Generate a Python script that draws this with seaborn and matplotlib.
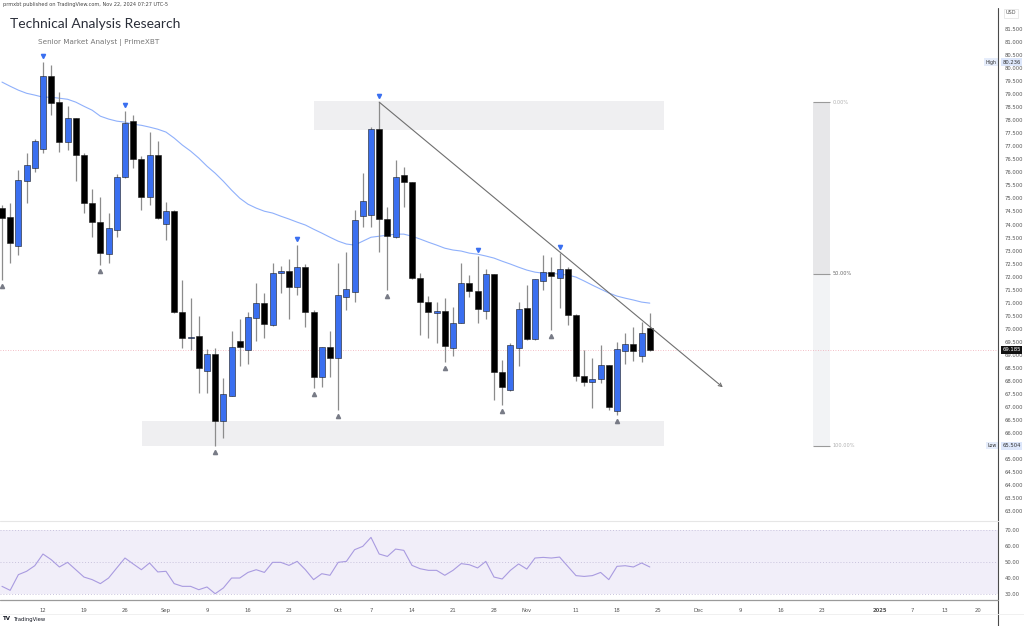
import numpy as np
import pandas as pd
import matplotlib
matplotlib.use('Agg')
import matplotlib.pyplot as plt
import matplotlib.transforms as mtransforms
from matplotlib.lines import Line2D
import seaborn as sns

# daily candles, bar index 0 = Aug 12 2024 (weekdays only)
bars = list(range(-5, 75))
opens = [74.63, 74.28, 73.17, 75.66, 76.16, 76.89, 79.70, 78.70, 77.16, 78.08,
         76.66, 74.82, 74.09, 72.86, 73.78, 75.82, 77.97, 76.51, 75.05, 76.66,
         74.01, 74.51, 70.64, 69.64, 69.71, 68.37, 69.02, 66.45, 67.41, 69.52,
         69.18, 70.41, 70.98, 70.14, 72.13, 72.21, 71.60, 72.36, 70.64, 68.14,
         69.29, 68.87, 71.21, 71.40, 74.32, 74.36, 77.66, 74.21, 73.52, 75.90,
         75.63, 71.94, 71.02, 70.60, 70.67, 69.25, 70.21, 71.75, 71.44, 70.67,
         72.09, 68.33, 67.64, 69.25, 70.79, 69.60, 71.83, 72.17, 71.94, 72.29,
         70.52, 68.18, 67.95, 68.06, 68.60, 66.84, 69.14, 69.41, 68.95, 70.02]
highs = [74.74, 74.82, 76.09, 76.74, 77.28, 80.24, 80.12, 79.08, 78.54, 78.10,
         76.74, 75.36, 75.05, 74.44, 75.93, 78.35, 78.20, 76.62, 77.55, 77.20,
         74.86, 74.55, 71.86, 71.17, 70.48, 69.22, 69.25, 68.10, 69.91, 70.37,
         70.64, 71.75, 71.37, 72.52, 72.40, 72.67, 73.21, 72.48, 70.71, 69.30,
         69.91, 72.52, 72.94, 74.55, 75.97, 77.74, 78.70, 74.67, 76.47, 76.20,
         75.65, 72.13, 71.25, 71.02, 71.17, 70.83, 72.52, 72.06, 72.79, 72.29,
         72.10, 68.79, 69.45, 71.02, 71.67, 71.92, 72.82, 72.75, 72.90, 72.36,
         70.55, 69.18, 68.87, 69.37, 68.62, 69.48, 69.83, 70.06, 70.25, 70.60]
lows = [71.86, 72.52, 72.82, 74.82, 76.01, 76.74, 78.20, 76.78, 76.85, 75.66,
        74.44, 73.52, 72.44, 72.52, 73.52, 75.80, 76.16, 74.55, 74.74, 74.22,
        73.40, 70.60, 69.25, 69.18, 67.53, 67.53, 65.50, 65.80, 67.40, 68.56,
        68.64, 69.52, 69.64, 70.12, 71.37, 70.37, 71.29, 70.06, 67.72, 67.76,
        68.14, 66.87, 70.71, 71.02, 73.90, 73.90, 72.94, 71.48, 73.50, 74.67,
        71.90, 69.75, 69.64, 69.45, 68.72, 68.95, 70.20, 71.21, 70.21, 70.37,
        67.26, 67.07, 67.62, 68.56, 69.58, 69.58, 71.48, 69.94, 70.79, 70.14,
        67.99, 67.79, 66.95, 67.91, 66.87, 66.68, 68.64, 68.75, 68.72, 69.15]
closes = [74.24, 73.28, 75.70, 76.28, 77.20, 79.70, 78.66, 77.16, 78.08, 76.66,
          74.82, 74.09, 72.90, 73.86, 75.82, 77.89, 76.51, 75.05, 76.66, 74.24,
          74.51, 70.64, 69.64, 69.68, 68.49, 69.02, 66.45, 67.49, 69.29, 69.29,
          70.44, 70.98, 70.17, 72.13, 72.21, 71.60, 72.36, 70.64, 68.14, 69.29,
          68.87, 71.29, 71.52, 74.17, 74.90, 77.66, 74.21, 73.55, 75.82, 75.63,
          71.94, 71.02, 70.64, 70.67, 69.33, 70.21, 71.75, 71.44, 70.75, 72.09,
          68.33, 67.76, 69.37, 70.75, 69.60, 71.90, 72.17, 72.02, 72.29, 70.52,
          68.18, 67.95, 68.06, 68.60, 66.99, 69.22, 69.41, 69.14, 69.83, 69.185]
ma = [79.47, 79.31, 79.16, 79.04, 78.97, 78.89, 78.89, 78.85, 78.81, 78.70,
      78.54, 78.39, 78.16, 78.05, 77.97, 77.93, 77.85, 77.81, 77.74, 77.66,
      77.55, 77.32, 77.05, 76.82, 76.55, 76.24, 75.97, 75.66, 75.32, 75.01,
      74.78, 74.63, 74.51, 74.44, 74.32, 74.21, 74.09, 73.98, 73.82, 73.67,
      73.51, 73.36, 73.25, 73.21, 73.36, 73.51, 73.55, 73.59, 73.63, 73.63,
      73.55, 73.44, 73.32, 73.21, 73.09, 73.02, 72.98, 72.90, 72.86, 72.79,
      72.71, 72.59, 72.48, 72.36, 72.25, 72.17, 72.13, 72.13, 72.09, 72.06,
      71.98, 71.83, 71.67, 71.52, 71.37, 71.25, 71.17, 71.10, 71.02, 70.98]
rsi = [34.8, 32.3, 42.1, 44.2, 47.7, 55.0, 51.5, 46.9, 49.8, 45.2,
       40.6, 39.0, 36.5, 40.0, 46.3, 52.5, 48.8, 45.2, 49.4, 43.8,
       44.2, 36.5, 34.8, 34.8, 32.7, 34.4, 30.2, 33.8, 40.0, 40.0,
       43.5, 45.2, 43.5, 49.8, 49.8, 47.9, 50.4, 45.2, 39.0, 42.7,
       41.7, 49.8, 50.4, 57.7, 59.8, 65.4, 55.0, 53.5, 58.1, 57.3,
       47.9, 45.8, 44.8, 44.8, 41.7, 44.8, 49.0, 48.3, 46.3, 50.4,
       40.6, 39.4, 44.8, 48.8, 45.6, 52.5, 52.9, 52.5, 53.1, 47.3,
       41.5, 41.0, 41.5, 43.5, 39.0, 47.3, 47.7, 46.9, 49.4, 46.9]

pivot_high_bars = [0, 10, 31, 41, 53, 63]
pivot_low_bars = [-5, 7, 21, 33, 36, 42, 49, 56, 62, 70]

x_tick_bars = [0, 5, 10, 15, 20, 25, 30, 36, 40, 45, 50, 55, 59, 65, 70, 75,
               80, 85, 90, 95, 102, 106, 110, 114]
x_tick_labels = ['12', '19', '26', 'Sep', '9', '16', '23', 'Oct', '7', '14', '21', '28',
                 'Nov', '11', '18', '25', 'Dec', '9', '16', '23', '2025', '7', '13', '20']

last_price = 69.185
high_price = 80.236
low_price = 65.504
supply_zone = (33.1, 75.7, 77.62, 78.74)   # x0, x1, y0, y1
demand_zone = (12.1, 75.7, 65.50, 66.45)
trend_start = (41, 78.70)
trend_end = (82.9, 67.75)
fib_x = (93.9, 96.0)
fib_top, fib_bottom = 78.70, 65.50

df = pd.DataFrame({'bar': bars, 'open': opens, 'high': highs, 'low': lows,
                   'close': closes, 'ma': ma, 'rsi': rsi})

sns.set_style('white')
plt.rcParams['font.family'] = ['DejaVu Sans']

fig = plt.figure(figsize=(10.24, 6.26), dpi=100)
ax = fig.add_axes([0, 0.1693, 0.9746, 0.8177])
ax2 = fig.add_axes([0, 0.0415, 0.9746, 0.1246])

BLUE = '#3a6ff0'
GREY = '#787b86'

# zones
for x0, x1, y0, y1 in [supply_zone, demand_zone]:
    ax.fill_between([x0, x1], y0, y1, color='#efeff1', lw=0, zorder=0)

# fib bar
fib_mid = (fib_top + fib_bottom) / 2
ax.fill_between(list(fib_x), fib_mid, fib_top, color='#e7e7e9', lw=0, zorder=0)
ax.fill_between(list(fib_x), fib_bottom, fib_mid, color='#f2f3f5', lw=0, zorder=0)
for lvl, lab, col in [(fib_top, '0.00%', '#b0b0b0'), (fib_mid, '50.00%', '#666666'),
                      (fib_bottom, '100.00%', '#b0b0b0')]:
    ax.hlines(lvl, fib_x[0], fib_x[1], color='#9a9a9a', lw=0.8, zorder=1)
    ax.text(fib_x[1] + 0.3, lvl, lab, fontsize=3.6, color=col, va='center', ha='left')

# current price line
ax.axhline(last_price, color='#f0a8b4', ls=(0, (1, 2)), lw=0.6, zorder=1)

# moving average
sns.lineplot(data=df, x='bar', y='ma', ax=ax, color='#8fb0fb', lw=0.8, zorder=2)

# candles
up = df['close'] >= df['open']
cols = np.where(up, BLUE, '#000000')
ax.vlines(df['bar'], df['low'], df['high'], color='#8c8c8c', lw=0.9, zorder=3)
body = (df['close'] - df['open']).abs().clip(lower=0.04)
ax.bar(df['bar'], body, bottom=df[['open', 'close']].min(axis=1), width=0.72,
       color=cols, edgecolor='#1a1a1a', linewidth=0.4, zorder=4)

# pivot markers
hi = df.set_index('bar').loc[pivot_high_bars, 'high']
lo = df.set_index('bar').loc[pivot_low_bars, 'low']
t_up = mtransforms.offset_copy(ax.transData, fig=fig, y=6, units='dots')
t_dn = mtransforms.offset_copy(ax.transData, fig=fig, y=-6, units='dots')
ax.plot(hi.index, hi.values, 'v', color=BLUE, ms=3, transform=t_up, zorder=5)
ax.plot(lo.index, lo.values, '^', color=GREY, ms=3, transform=t_dn, zorder=5)

# trend line
ax.annotate('', xy=trend_end, xytext=trend_start,
            arrowprops=dict(arrowstyle='->', color='#6f6f6f', lw=0.8,
                            mutation_scale=6, shrinkA=0, shrinkB=0), zorder=5)

ax.set_xlim(-5.24, 116.46)
ax.set_ylim(62.65, 82.31)
ax.set_xlabel('')
ax.set_ylabel('')
ax.set_xticks([])
ax.yaxis.tick_right()
# price ticks, leaving out the ones hidden under the low tag
yt = [v for v in np.arange(63.0, 81.51, 0.5) if abs(v - low_price) > 0.2]
ax.set_yticks(yt)
ax.set_yticklabels([f'{v:.3f}' for v in yt])
ax.tick_params(axis='y', length=0, pad=5, labelsize=3.8, labelcolor='#555555')
for s in ax.spines.values():
    s.set_visible(False)

# price scale tags
ty = ax.get_yaxis_transform()
ax.text(1.0045, high_price, f'{high_price:.3f}', transform=ty, fontsize=3.8, color='#333',
        va='center', ha='left', clip_on=False,
        bbox=dict(boxstyle='square,pad=0.25', fc='#dde7fb', ec='none'))
ax.text(0.9985, high_price, 'High', transform=ty, fontsize=3.4, color='#333',
        va='center', ha='right', clip_on=False,
        bbox=dict(boxstyle='square,pad=0.25', fc='#e6edfb', ec='none'))
ax.text(1.0045, low_price, f'{low_price:.3f}', transform=ty, fontsize=3.8, color='#333',
        va='center', ha='left', clip_on=False,
        bbox=dict(boxstyle='square,pad=0.25', fc='#dde7fb', ec='none'))
ax.text(0.9985, low_price, 'Low', transform=ty, fontsize=3.4, color='#333',
        va='center', ha='right', clip_on=False,
        bbox=dict(boxstyle='square,pad=0.25', fc='#e6edfb', ec='none'))
ax.text(1.0045, last_price, f'{last_price:.3f}', transform=ty, fontsize=3.8, color='white',
        va='center', ha='left', clip_on=False,
        bbox=dict(boxstyle='square,pad=0.25', fc='#111111', ec='none'))

# RSI pane
ax2.axhspan(30, 70, color='#f1eef9', lw=0, zorder=0)
for lvl in [70, 50, 30]:
    ax2.axhline(lvl, color='#c9c3dd', ls=(0, (1, 2)), lw=0.7, zorder=1)
sns.lineplot(data=df, x='bar', y='rsi', ax=ax2, color='#a99be0', lw=0.8, zorder=2)
ax2.set_xlim(-5.24, 116.46)
ax2.set_ylim(26.25, 75)
ax2.set_xlabel('')
ax2.set_ylabel('')
ax2.yaxis.tick_right()
ax2.set_yticks([30, 40, 50, 60, 70])
ax2.set_yticklabels([f'{v:.2f}' for v in [30, 40, 50, 60, 70]])
ax2.set_xticks(x_tick_bars)
ax2.set_xticklabels(x_tick_labels)
ax2.tick_params(axis='y', length=0, pad=5, labelsize=3.8, labelcolor='#555555')
ax2.tick_params(axis='x', length=0, pad=6, labelsize=3.8, labelcolor='#555555')
for lab in ax2.get_xticklabels():
    if lab.get_text() == '2025':
        lab.set_fontweight('bold')
for s in ax2.spines.values():
    s.set_visible(False)

# frame lines
fig.add_artist(Line2D([0.9746, 0.9746], [0.0, 0.987], color='#4a4a4a', lw=0.8))
fig.add_artist(Line2D([0, 0.9746], [1 - 600 / 626] * 2, color='#9a9a9a', lw=0.9))
fig.add_artist(Line2D([0, 0.9746], [1 - 521 / 626] * 2, color='#e6e6e6', lw=0.8))
fig.add_artist(Line2D([0, 1], [1 - 614 / 626] * 2, color='#eeeeee', lw=0.6))

# texts
fig.text(0.003, 0.997, 'prmxbt published on TradingView.com, Nov 22, 2024 07:27 UTC-5',
         fontsize=3.6, color='#444', va='top', ha='left')
fig.text(0.0098, 1 - 24 / 626, 'Technical Analysis Research', fontsize=10,
         color='#2a2e39', va='center', ha='left', family='Lato')
fig.text(0.037, 1 - 43 / 626, 'Senior Market Analyst | PrimeXBT', fontsize=5.2,
         color='#777', va='center', ha='left')
fig.text(0.9875, 1 - 13 / 626, 'USD', fontsize=3.6, color='#555', va='center', ha='center',
         bbox=dict(boxstyle='square,pad=0.4', fc='white', ec='#e0e0e0', lw=0.5))
fig.text(0.003, 1 - 619 / 626, 'TV', fontsize=4, color='#131722', weight='bold',
         va='center', ha='left')
fig.text(0.0135, 1 - 619 / 626, 'TradingView', fontsize=3.8, color='#131722',
         va='center', ha='left')

fig.savefig('out.png', dpi=100, facecolor='white')
